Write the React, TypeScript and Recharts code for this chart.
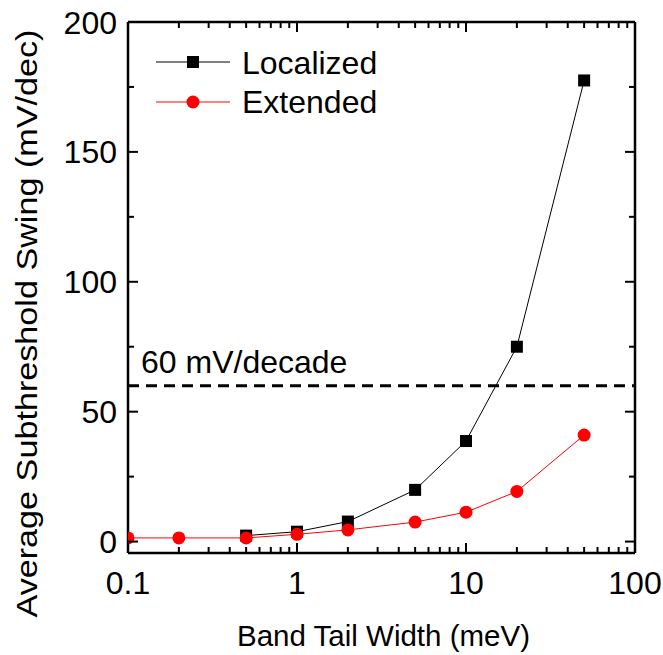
import { LineChart, Line, XAxis, YAxis, ReferenceLine, Legend } from "recharts";

const FONT = "Arial, 'Liberation Sans', sans-serif";

// band tail width (meV)
const localizedX = [0.5, 1, 2, 5, 10, 20, 50];
const localizedY = [2.3, 3.8, 7.7, 19.9, 38.7, 75, 177.5];
const extendedX = [0.1, 0.2, 0.5, 1, 2, 5, 10, 20, 50];
const extendedY = [1.4, 1.4, 1.4, 2.8, 4.5, 7.5, 11.3, 19.3, 41];

const xMajor = [0.1, 1, 10, 100];
const xMinor = [0.2, 0.3, 0.4, 0.5, 0.6, 0.7, 0.8, 0.9, 2, 3, 4, 5, 6, 7, 8, 9, 20, 30, 40, 50, 60, 70, 80, 90];
const yMajor = [0, 50, 100, 150, 200];
const yMinor = [25, 75, 125, 175];
const limitValue = 60;

const localized = localizedX.map((x, i) => ({ x, y: localizedY[i] }));
const extended = extendedX.map((x, i) => ({ x, y: extendedY[i] }));

const xTicks = [...xMajor, ...xMinor].sort((a, b) => a - b);
const yTicks = [...yMajor, ...yMinor].sort((a, b) => a - b);

const BottomTick = (p: any) => {
  const major = xMajor.includes(p.payload.value);
  return (
    <g>
      <line x1={p.x} y1={p.y} x2={p.x} y2={p.y - (major ? 10 : 6)} stroke="#000" strokeWidth={2} />
      {major && (
        <text x={p.x} y={p.y + 41} textAnchor="middle" fontSize={32} fontFamily={FONT} fill="#000">
          {p.payload.value}
        </text>
      )}
    </g>
  );
};

const TopTick = (p: any) => {
  const major = xMajor.includes(p.payload.value);
  return <line x1={p.x} y1={p.y} x2={p.x} y2={p.y + (major ? 10 : 6)} stroke="#000" strokeWidth={2} />;
};

const LeftTick = (p: any) => {
  const major = yMajor.includes(p.payload.value);
  return (
    <g>
      <line x1={p.x} y1={p.y} x2={p.x + (major ? 10 : 6)} y2={p.y} stroke="#000" strokeWidth={2} />
      {major && (
        <text x={p.x - 11} y={p.y} dy="0.36em" textAnchor="end" fontSize={32} fontFamily={FONT} fill="#000">
          {p.payload.value}
        </text>
      )}
    </g>
  );
};

const RightTick = (p: any) => {
  const major = yMajor.includes(p.payload.value);
  return <line x1={p.x} y1={p.y} x2={p.x - (major ? 10 : 6)} y2={p.y} stroke="#000" strokeWidth={2} />;
};

const SquareDot = (p: any) => (
  <rect key={p.index} x={p.cx - 6} y={p.cy - 6} width={12} height={12} fill="#000" />
);

const CircleDot = (p: any) => <circle key={p.index} cx={p.cx} cy={p.cy} r={6.5} fill="#ff0000" />;

const LegendBox = () => (
  <svg width={280} height={90} style={{ display: "block" }}>
    <line x1={6} y1={22} x2={80} y2={22} stroke="#000" strokeWidth={1} />
    <rect x={37} y={16} width={12} height={12} fill="#000" />
    <text x={92} y={34} fontSize={32} fontFamily={FONT} fill="#000">Localized</text>
    <line x1={6} y1={62} x2={80} y2={62} stroke="#ff0000" strokeWidth={1} />
    <circle cx={43} cy={62} r={6.5} fill="#ff0000" />
    <text x={92} y={73} fontSize={32} fontFamily={FONT} fill="#000">Extended</text>
  </svg>
);

const XTitle = (p: any) => {
  const vb = p.viewBox;
  return (
    <text x={vb.x + vb.width / 2 + 2} y={vb.y + 93} textAnchor="middle" fontSize={29.5} fontFamily={FONT} fill="#000">
      Band Tail Width (meV)
    </text>
  );
};

const YTitle = (p: any) => {
  const vb = p.viewBox;
  const cx = 37;
  const cy = vb.y + vb.height / 2 + 36;
  return (
    <text
      x={cx}
      y={cy}
      transform={`rotate(-90, ${cx}, ${cy})`}
      textAnchor="middle"
      fontSize={30}
      fontFamily={FONT}
      fill="#000"
      textLength={588}
      lengthAdjust="spacingAndGlyphs"
    >
      Average Subthreshold Swing (mV/dec)
    </text>
  );
};

const LimitLabel = (p: any) => {
  const vb = p.viewBox;
  return (
    <text x={vb.x + 13} y={vb.y - 13} fontSize={32} fontFamily={FONT} fill="#000">
      60 mV/decade
    </text>
  );
};

export default function App() {
  return (
    <div style={{ position: "absolute", left: 0, top: 0, background: "#fff" }}>
      <LineChart width={663} height={655} margin={{ top: 21, right: 27, left: 0, bottom: 0 }}>
        <XAxis
          xAxisId="b"
          type="number"
          dataKey="x"
          scale="log"
          domain={[0.1, 100]}
          allowDataOverflow
          ticks={xTicks}
          interval={0}
          tick={<BottomTick />}
          tickLine={false}
          tickSize={0}
          tickMargin={0}
          height={102}
          axisLine={{ stroke: "#000", strokeWidth: 2.5 }}
          label={{ content: <XTitle /> }}
        />
        <XAxis
          xAxisId="t"
          orientation="top"
          type="number"
          dataKey="x"
          scale="log"
          domain={[0.1, 100]}
          allowDataOverflow
          ticks={xTicks}
          interval={0}
          tick={<TopTick />}
          tickLine={false}
          tickSize={0}
          tickMargin={0}
          height={1}
          axisLine={{ stroke: "#000", strokeWidth: 2.5 }}
        />
        <YAxis
          yAxisId="l"
          type="number"
          domain={[-4.4, 200]}
          allowDataOverflow
          ticks={yTicks}
          interval={0}
          tick={<LeftTick />}
          tickLine={false}
          tickSize={0}
          tickMargin={0}
          width={128}
          axisLine={{ stroke: "#000", strokeWidth: 2.5 }}
          label={{ content: <YTitle /> }}
        />
        <YAxis
          yAxisId="r"
          orientation="right"
          type="number"
          domain={[-4.4, 200]}
          allowDataOverflow
          ticks={yTicks}
          interval={0}
          tick={<RightTick />}
          tickLine={false}
          tickSize={0}
          tickMargin={0}
          width={1}
          axisLine={{ stroke: "#000", strokeWidth: 2.5 }}
        />
        <ReferenceLine
          xAxisId="b"
          yAxisId="l"
          y={limitValue}
          stroke="#000"
          strokeWidth={3}
          strokeDasharray="11 7"
          label={{ content: <LimitLabel /> }}
        />
        <Legend
          layout="horizontal"
          verticalAlign="middle"
          align="center"
          wrapperStyle={{ position: "absolute", top: 40, left: 150, width: 280 }}
          content={<LegendBox />}
        />
        <Line
          xAxisId="b"
          yAxisId="l"
          name="Localized"
          data={localized}
          dataKey="y"
          stroke="#000"
          strokeWidth={1}
          dot={SquareDot}
          activeDot={false}
          isAnimationActive={false}
        />
        <Line
          xAxisId="b"
          yAxisId="l"
          name="Extended"
          data={extended}
          dataKey="y"
          stroke="#ff0000"
          strokeWidth={1}
          dot={CircleDot}
          activeDot={false}
          isAnimationActive={false}
        />
      </LineChart>
    </div>
  );
}
